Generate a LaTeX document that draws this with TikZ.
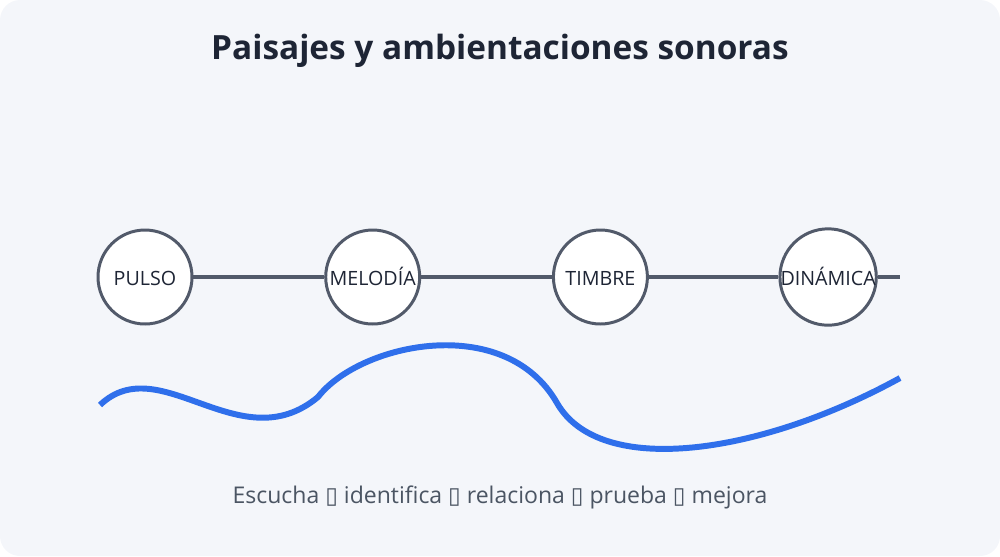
\documentclass[tikz,border=0pt]{standalone}
\usepackage{fontspec}
\setmainfont{Open Sans}
\newfontfamily\boxfont{DejaVu Sans}
\usepackage{tikz}
\usetikzlibrary{arrows,positioning}

\definecolor{panel}{HTML}{F4F6FA}
\definecolor{ink}{HTML}{1E2535}
\definecolor{slate}{HTML}{525A6A}
\definecolor{subtext}{HTML}{4B5563}
\definecolor{waveblue}{HTML}{2F6FEB}

\newcommand{\sep}{{\boxfont\char"25AF}}

\begin{document}
\begin{tikzpicture}[x=0.02cm,y=-0.02cm,node distance=4.555cm,
  stage node/.style={circle,fill=white,draw=slate,line width=1.7pt,
    minimum size=1.88cm,inner sep=0pt,text=ink,text height=0.92em,text depth=0pt,
    font=\fontsize{11.2}{13}\selectfont}]

  \useasboundingbox (0,0) rectangle (1000,556);
  \fill[panel,rounded corners=0.4cm] (0,0) rectangle (1000,556);

  \node[font=\bfseries\fontsize{19}{22}\selectfont,text=ink] (title) at (500,51)
    {Paisajes y ambientaciones sonoras};

  % timeline
  \coordinate (lineend) at (900,277);
  \node[stage node] (pulso) at (145,277) {PULSO};
  \node[stage node] (melodia) [right of=pulso] {MELODÍA};
  \node[stage node] (timbre) [right of=melodia] {TIMBRE};
  \node[stage node] (dinamica) [right of=timbre] {DINÁMICA};

  \draw[slate,line width=2.2pt] (pulso) -- (melodia) -- (timbre) -- (dinamica) -- (lineend);

  % wave
  \draw[waveblue,line width=3.4pt]
    (100,405) .. controls (160,348) and (240,462) .. (318,397)
    .. controls (360,343) and (505,312) .. (557,403)
    .. controls (600,478) and (760,455) .. (900,378);

  \node[text=subtext,font=\fontsize{13.1}{15}\selectfont] (steps) at (500,497)
    {Escucha \sep{} identifica \sep{} relaciona \sep{} prueba \sep{} mejora};
\end{tikzpicture}
\end{document}
